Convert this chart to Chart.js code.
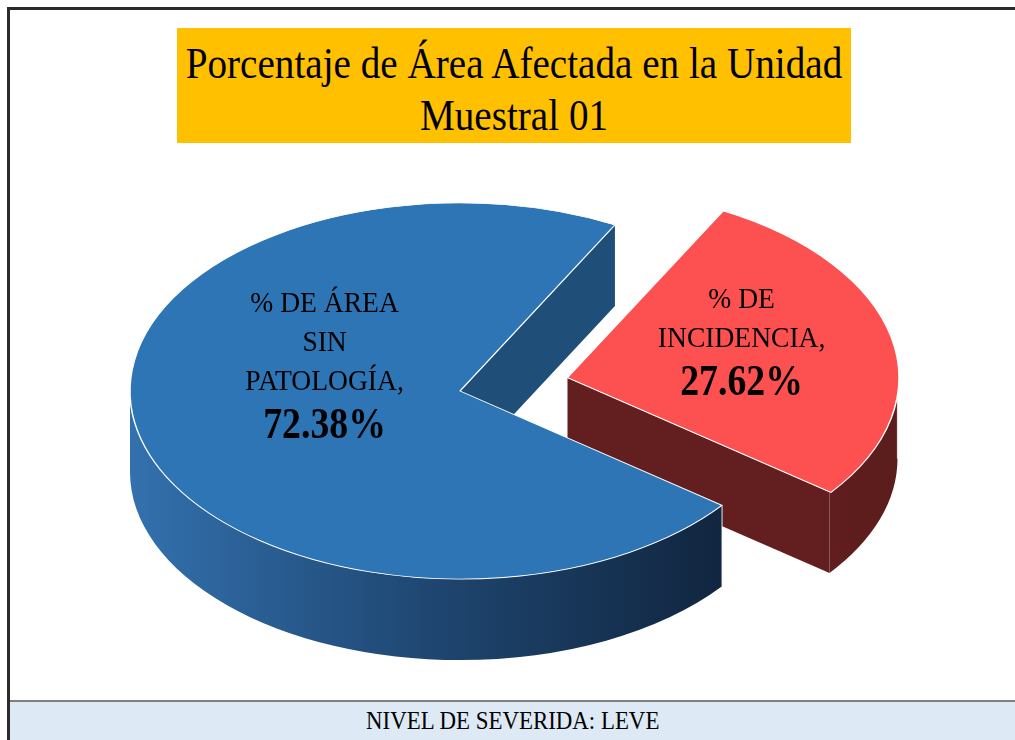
<!DOCTYPE html>
<html>
<head>
<meta charset="utf-8">
<script src="https://cdn.jsdelivr.net/npm/chart.js@4.4.0/dist/chart.umd.min.js"></script>
<style>
  body { margin: 0; background: #fff; }
  #marco { position: absolute; left: 7px; top: 7px; width: 1008px; height: 733px; border-left: 3px solid #2b2b2b; border-top: 3px solid #2b2b2b; box-sizing: border-box; }
  #titulo { position: absolute; left: 177px; top: 28px; width: 674px; height: 115px; background: #ffc000; padding-top: 9px; box-sizing: border-box; }
  #titulo div { width: 800px; margin-left: -63px; font-family: 'Liberation Serif', serif; font-size: 45px; line-height: 52px; text-align: center; color: #000; white-space: nowrap; transform: scaleX(0.87); }
  #pie { position: absolute; left: 10px; top: 700px; width: 1005px; height: 40px; background: #dde9f5; border-top: 2px solid #808080; box-sizing: border-box; font-family: 'Liberation Serif', serif; font-size: 26px; text-align: center; line-height: 38px; color: #000; }
  #pie span { display: inline-block; transform: scaleX(0.88); }
  canvas { position: absolute; left: 0; top: 0; }
</style>
</head>
<body>
<div id="marco"></div>
<div id="titulo"><div>Porcentaje de Área Afectada en la Unidad</div><div>Muestral 01</div></div>
<div id="pie"><span>NIVEL DE SEVERIDA: LEVE</span></div>
<canvas id="grafico" width="1015" height="740"></canvas>
<script>
const categorias = ['% DE INCIDENCIA', '% DE ÁREA SIN PATOLOGÍA'];
const valores = [27.62, 72.38];
const etiquetas = [['% DE', 'INCIDENCIA,'], ['% DE ÁREA', 'SIN', 'PATOLOGÍA,']];
const colores = ['#fd5151', '#2e75b6'];
const coloresLado = ['#631f1f', '#1f4e79'];

const K = 0.57;      // aplastamiento vertical de la torta
const PROF = 81;     // grosor de la torta en pantalla
// donde va cada etiqueta (fraccion del radio y corrimiento vertical)
const posEtiqueta = [{ f: 0.54, dy: -14 }, { f: 0.42, dy: -42 }];

function centroArco(arc) {
  const mid = (arc.startAngle + arc.endAngle) / 2;
  const off = (arc.options.offset || 0) / 4;
  return { x: arc.x + Math.cos(mid) * off, y: arc.y + Math.sin(mid) * off, mid: mid };
}

function textoAngosto(ctx, t, x, y, sx) {
  ctx.save();
  ctx.translate(x, y);
  ctx.scale(sx, 1);
  ctx.fillText(t, 0, 0);
  ctx.restore();
}

const torta3d = {
  id: 'torta3d',
  beforeDatasetsDraw(chart) {
    const ctx = chart.ctx;
    const arcs = chart.getDatasetMeta(0).data;
    const cy = arcs[0].y;
    const D = PROF / K;
    ctx.save();
    ctx.translate(0, cy);
    ctx.scale(1, K);
    ctx.translate(0, -cy);

    arcs.forEach((arc, i) => {
      const c = centroArco(arc);
      const r = arc.outerRadius;
      const a0 = arc.startAngle, a1 = arc.endAngle;

      // pared del corte (solo la que mira hacia adelante)
      if (Math.cos(a1) > 0) {
        ctx.beginPath();
        ctx.moveTo(c.x, c.y);
        ctx.lineTo(c.x + Math.cos(a1) * r, c.y + Math.sin(a1) * r);
        ctx.lineTo(c.x + Math.cos(a1) * r, c.y + Math.sin(a1) * r + D);
        ctx.lineTo(c.x, c.y + D);
        ctx.closePath();
        ctx.fillStyle = coloresLado[i];
        ctx.fill();
      }

      // pared exterior visible (angulos entre 0 y PI)
      const tramos = [];
      for (let k = -1; k <= 1; k++) {
        const lo = Math.max(a0, k * 2 * Math.PI), hi = Math.min(a1, k * 2 * Math.PI + Math.PI);
        if (hi > lo) tramos.push([lo, hi]);
      }
      tramos.forEach(([lo, hi]) => {
        ctx.beginPath();
        ctx.arc(c.x, c.y, r, lo, hi);
        ctx.lineTo(c.x + Math.cos(hi) * r, c.y + Math.sin(hi) * r + D);
        ctx.arc(c.x, c.y + D, r, hi, lo, true);
        ctx.closePath();
        if (i === 1) {
          const g = ctx.createLinearGradient(c.x - r, 0, c.x + r * 0.78, 0);
          g.addColorStop(0, '#3371ae');
          g.addColorStop(0.5, '#1f4772');
          g.addColorStop(1, '#112640');
          ctx.fillStyle = g;
        } else {
          const g = ctx.createLinearGradient(c.x + r * 0.7, 0, c.x + r, 0);
          g.addColorStop(0, '#641f1f');
          g.addColorStop(1, '#5a1c1c');
          ctx.fillStyle = g;
        }
        ctx.fill();
        // arista vertical clara
        ctx.beginPath();
        ctx.moveTo(c.x + Math.cos(lo) * r, c.y + Math.sin(lo) * r);
        ctx.lineTo(c.x + Math.cos(lo) * r, c.y + Math.sin(lo) * r + D);
        ctx.strokeStyle = 'rgba(255,255,255,0.75)';
        ctx.lineWidth = 1.2;
        ctx.stroke();
      });
    });
  },
  afterDatasetsDraw(chart) {
    const ctx = chart.ctx;
    ctx.restore();
    const arcs = chart.getDatasetMeta(0).data;
    ctx.save();
    ctx.fillStyle = '#000';
    ctx.textAlign = 'center';
    ctx.textBaseline = 'middle';
    arcs.forEach((arc, i) => {
      const c = centroArco(arc);
      const r = arc.outerRadius * posEtiqueta[i].f;
      const px = c.x + Math.cos(c.mid) * r;
      const pyU = c.y + Math.sin(c.mid) * r;
      const py = arc.y + (pyU - arc.y) * K + posEtiqueta[i].dy;
      const lineas = etiquetas[i];
      const alto = (lineas.length - 1) * 39 + 44;
      let y = py - alto / 2;
      ctx.font = '29px "Liberation Serif", serif';
      lineas.forEach(t => { textoAngosto(ctx, t, px, y, 0.95); y += 39; });
      y += 5;
      ctx.font = 'bold 45px "Liberation Serif", serif';
      textoAngosto(ctx, valores[i].toFixed(2) + '%', px, y, 0.84);
    });
    ctx.restore();
  }
};

new Chart(document.getElementById('grafico'), {
  type: 'pie',
  data: {
    labels: categorias,
    datasets: [{
      data: valores,
      backgroundColor: colores,
      borderColor: '#ffffff',
      borderWidth: 1.5,
      offset: [440, 0],
      radius: 330,
      clip: false
    }]
  },
  options: {
    responsive: false,
    devicePixelRatio: 1,
    animation: false,
    events: [],
    rotation: 28,
    layout: { padding: { left: 120, right: 215, top: 51, bottom: 9 } },
    plugins: {
      legend: { display: false },
      tooltip: { enabled: false }
    }
  },
  plugins: [torta3d]
});
</script>
</body>
</html>
